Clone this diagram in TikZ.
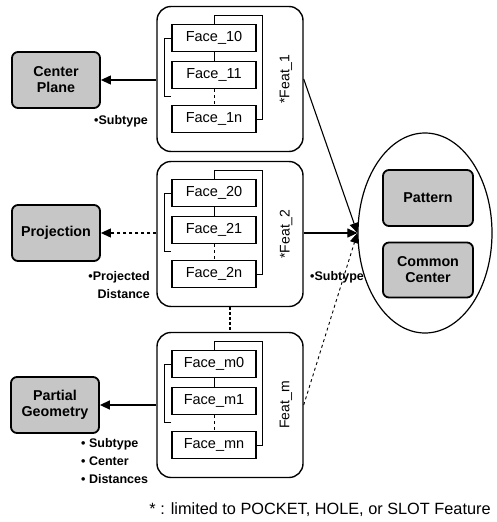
\documentclass[tikz,border=0pt]{standalone}
\usepackage{fontspec}
\setmainfont{Liberation Sans}
\usetikzlibrary{shapes.geometric,arrows.meta}

\begin{document}
\begin{tikzpicture}[
    x=1pt, y=-1pt,
    >={Triangle[length=10pt,width=9pt]},
    feat/.style = {draw, line width=1.4pt, rounded corners=14pt, minimum width=146pt, minimum height=145pt},
    face/.style = {draw, line width=1.2pt, minimum width=84pt, minimum height=27pt, inner sep=0pt, font=\fontsize{14.5}{14.5}\selectfont},
    kind/.style = {draw, line width=1.8pt, rounded corners=6pt, fill=gray!45, minimum width=88pt, minimum height=56pt, align=center, font=\bfseries\fontsize{14.3}{16}\selectfont},
    note/.style = {font=\bfseries\fontsize{12.5}{18}\selectfont, align=left, inner sep=1pt},
  ]

	\useasboundingbox (0,0) rectangle (496,522);

	% Features
	\node[feat] (F1) at (230,79) {};
	\node[feat] (F2) at (230,234) {};
	\node[feat] (Fm) at (230,405) {};

	% Faces in each feature
	\foreach \f/\t in {1/{*Feat\_1}, 2/{*Feat\_2}, m/{Feat\_m}} {
		\node[face] (F\f-0) at ([xshift=-16pt,yshift=41pt]F\f.center) {Face\_\f0};
		\node[face] (F\f-1) at ([xshift=-16pt,yshift=4pt]F\f.center) {Face\_\f1};
		\node[face] (F\f-n) at ([xshift=-16pt,yshift=-40pt]F\f.center) {Face\_\f n};
		\node[rotate=90, font=\fontsize{14}{14}\selectfont] (T\f) at ([xshift=56pt]F\f.center) {\t};
		\draw[line width=1pt] (F\f-0) -- (F\f-1);
		\draw[line width=1pt, dashed] (F\f-1) -- (F\f-n);
		% brackets
		\draw[line width=1pt] (F\f-0.north) -- ++(0,-8) -| ([xshift=6pt]F\f-n.east) -- (F\f-n.east);
		\draw[line width=1pt] (F\f-0.west) -- ++(-7,0) -- ++(0,58) -- ++(7,0);
	}

	% Subtypes
	\node[kind] (CP) at (56,80) {Center\\Plane};
	\node[kind] (PJ) at (56,233) {Projection};
	\node[kind] (PG) at (55,405) {Partial\\Geometry};

	% Group
	\node[draw, ellipse, line width=1.2pt, minimum width=134pt, minimum height=200pt] (G) at (425,233) {};
	\node[kind, minimum width=90pt] (PT) at (428,198) {Pattern};
	\node[kind, minimum width=90pt, minimum height=55pt] (CC) at (428,270) {Common\\Center};

	% Pfeile
	\draw[->, line width=1.1pt] (F1.west |- CP) -- (CP);
	\draw[->, line width=1.1pt, dashed] (F2.west |- PJ) -- (PJ);
	\draw[->, line width=1.4pt] (Fm.west |- PG) -- (PG);
	\draw[->, line width=1.1pt] (F1.east) -- (G.west);
	\draw[->, line width=1.1pt] (F2.east |- G.west) -- (G.west);
	\draw[->, line width=0.9pt, dashed] (Fm.east) -- (G.west);
	\draw[line width=2.8pt, dash pattern=on 3pt off 2pt] (F2.south) -- (Fm.north);

	% Labels
	\node[note, anchor=north] (N1) at (121,114) {\textbullet Subtype};
	\node[note, align=right, anchor=east] (N2) at (151,285) {\textbullet Projected\\Distance};
	\node[note] (N3) at (337,277) {\textbullet Subtype};
	\node[note, anchor=north west] (N4) at (80,437) {\textbullet\ Subtype\\\textbullet\ Center\\\textbullet\ Distances};
	\node[font=\fontsize{16.3}{18}\selectfont] (FN) at (320,510) {* : limited to POCKET, HOLE, or SLOT Feature};

\end{tikzpicture}
\end{document}
